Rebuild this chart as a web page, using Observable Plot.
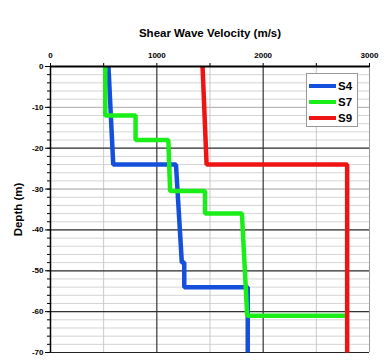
<!DOCTYPE html>
<html><head><meta charset="utf-8">
<script src="https://cdn.jsdelivr.net/npm/d3@7"></script>
<script src="https://cdn.jsdelivr.net/npm/@observablehq/plot@0.6"></script>
<style>
body{margin:0;background:#fff;font-family:"Liberation Sans",Arial,sans-serif;}
#wrap{position:relative;width:385px;height:362px;}
#legend{position:absolute;left:306px;top:73px;width:52px;height:54px;border:1px solid #999;background:#fff;box-sizing:border-box;}
#legend .row{position:absolute;left:2px;height:12px;display:flex;align-items:center;font-weight:bold;font-size:11.5px;color:#000;}
#legend .sw{width:27px;height:4px;margin-right:2px;}
</style></head>
<body><div id="wrap"><div id="chart"></div><div id="legend"></div></div>
<script>
const seriesNames = ["S4", "S7", "S9"];
const seriesColors = ["#1450dc", "#19ee19", "#ee1414"];
const s4Velocity = [545, 590, 1180, 1235, 1258, 1258, 1855, 1855];
const s4Depth    = [0, -24, -24, -48, -48, -54, -54, -70];
const s7Velocity = [515, 515, 800, 800, 1108, 1125, 1453, 1453, 1800, 1850, 2785];
const s7Depth    = [0, -12, -12, -18, -18, -30.5, -30.5, -36, -36, -61, -61];
const s9Velocity = [1430, 1468, 2790, 2790];
const s9Depth    = [0, -24, -24, -70];
const xTicks = [0, 1000, 2000, 3000];
const xMinorTicks = [500, 1500, 2500];
const yTicks = [0, -10, -20, -30, -40, -50, -60, -70];
const yDarkGrid = [-20, -40, -50, -60];
const yLightGrid = [-10, -30];
const yMinor = d3.range(0, -71, -2);

const rows = [];
[[s4Velocity, s4Depth], [s7Velocity, s7Depth], [s9Velocity, s9Depth]].forEach(([v, d], i) => {
  v.forEach((vv, j) => rows.push({series: seriesNames[i], v: vv, d: d[j]}));
});

const chart = Plot.plot({
  width: 385, height: 362,
  marginLeft: 50, marginRight: 16, marginTop: 66, marginBottom: 10,
  style: {fontFamily: "'Liberation Sans', Arial, sans-serif", fontWeight: "bold", fontSize: "8px", color: "#000"},
  x: {type: "linear", domain: [0, 3000]},
  y: {type: "linear", domain: [-70, 0]},
  color: {domain: seriesNames, range: seriesColors},
  marks: [
    Plot.ruleY(yMinor, {stroke: "#d4d4d4", strokeWidth: 1}),
    Plot.ruleX(xMinorTicks, {stroke: "#c8c8c8", strokeWidth: 1}),
    Plot.ruleY(yLightGrid, {stroke: "#b4b4b4", strokeWidth: 1}),
    Plot.ruleY(yDarkGrid, {stroke: "#333", strokeWidth: 1.2}),
    Plot.ruleX([1000, 2000], {stroke: "#333", strokeWidth: 1.2}),
    Plot.ruleX([3000], {stroke: "#999", strokeWidth: 1}),
    Plot.ruleY([-70], {stroke: "#222", strokeWidth: 1.2}),
    Plot.axisX({anchor: "top", ticks: xTicks, tickSize: 4, tickPadding: 5, tickFormat: d => String(d),
      label: "Shear Wave Velocity (m/s)", labelAnchor: "center", labelArrow: "none", labelOffset: 38}),
    Plot.axisX({anchor: "top", ticks: xMinorTicks, tickSize: 4, tickFormat: () => "", label: null}),
    Plot.axisY({anchor: "left", ticks: yTicks, tickSize: 5, tickPadding: 2, tickFormat: d => String(d),
      label: "Depth (m)", labelAnchor: "center", labelArrow: "none", labelOffset: 37}),
    Plot.axisY({anchor: "left", ticks: yMinor, tickSize: 3, tickFormat: () => "", label: null}),
    Plot.line(rows, {x: "v", y: "d", z: "series", stroke: "series", strokeWidth: 4.5, strokeLinejoin: "miter", strokeLinecap: "butt"}),
    Plot.ruleY([0], {stroke: "#000", strokeWidth: 2}),
    Plot.ruleX([0], {stroke: "#000", strokeWidth: 1.5})
  ]
});
d3.select(chart).selectAll("[aria-label='x-axis label'] text, [aria-label='y-axis label'] text").style("font-size", "11.5px");
document.getElementById("chart").appendChild(chart);

const lg = document.getElementById("legend");
seriesNames.forEach((n, i) => {
  const r = document.createElement("div");
  r.className = "row";
  r.style.top = (6 + i * 16) + "px";
  r.innerHTML = `<span class="sw" style="background:${seriesColors[i]}"></span>${n}`;
  lg.appendChild(r);
});
</script></body></html>
